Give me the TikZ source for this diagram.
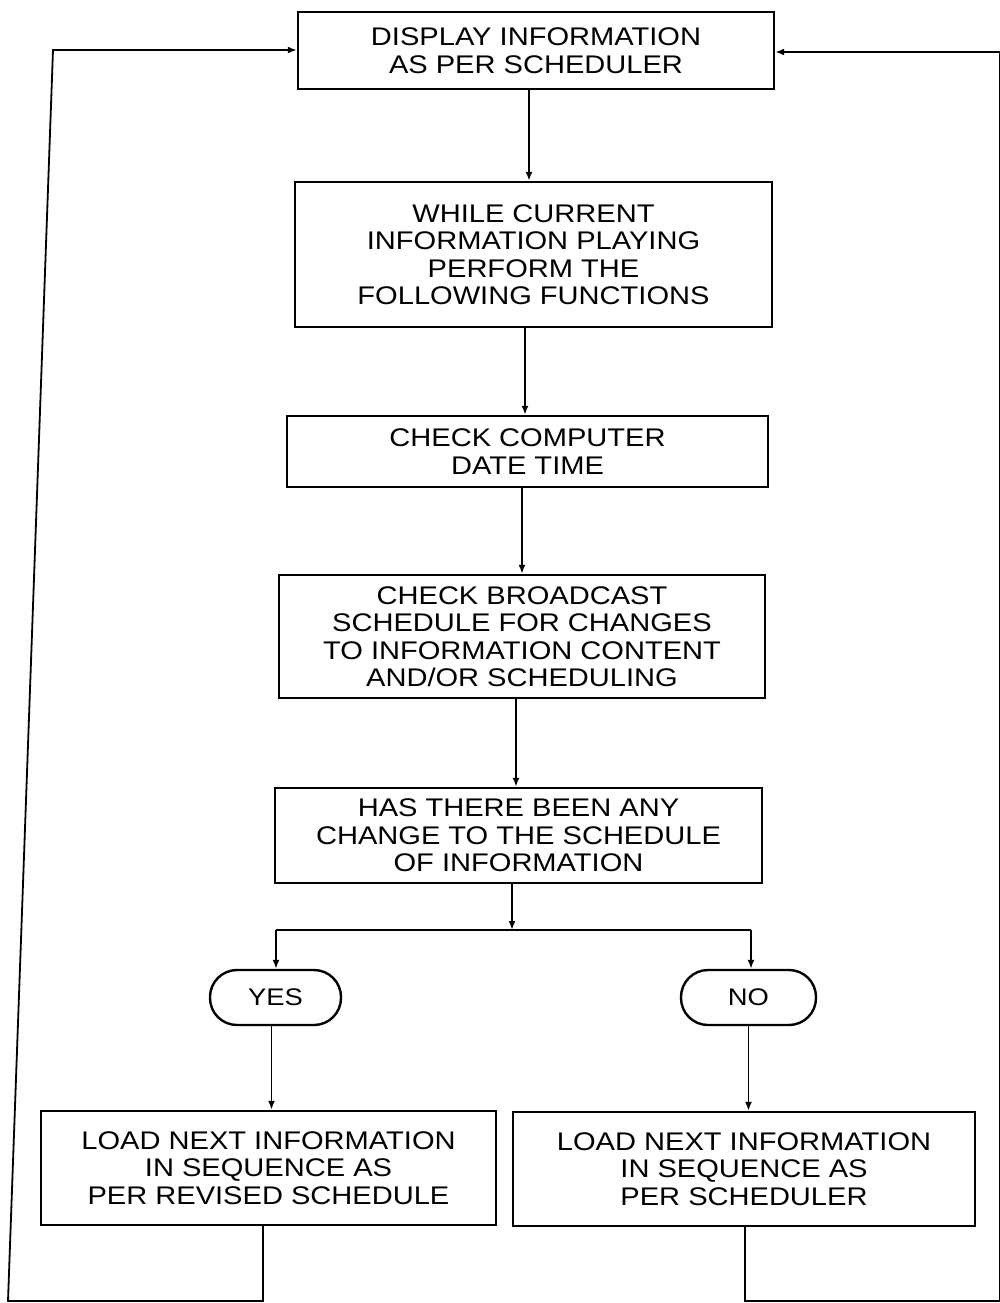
\documentclass[tikz,border=0pt]{standalone}
\usepackage{fontspec}
\setmainfont{Liberation Sans}[FakeStretch=1.14]
\usetikzlibrary{arrows.meta}
\begin{document}
\begin{tikzpicture}[x=1pt,y=-1pt,
  box/.style={draw, line width=2.4pt, inner sep=0pt, align=center,
    font=\fontsize{25.5}{27.5}\selectfont},
  term/.style={draw, line width=2.4pt, rounded corners=27pt, inner sep=0pt,
    minimum height=55pt, font=\fontsize{24}{26}\selectfont},
  conn/.style={line width=1.8pt},
  arr/.style={conn, -{Latex[length=9pt,width=7pt]}}]
\useasboundingbox (0,0) rectangle (1000,1303);

\node[box, minimum width=476pt, minimum height=77pt] (b1) at (536,50.5)
  {DISPLAY INFORMATION\\AS PER SCHEDULER};
\node[box, minimum width=477pt, minimum height=145pt] (b2) at (533.5,254.5)
  {WHILE CURRENT\\INFORMATION PLAYING\\PERFORM THE\\FOLLOWING FUNCTIONS};
\node[box, minimum width=481pt, minimum height=71pt] (b3) at (527.5,451.5)
  {CHECK COMPUTER\\DATE TIME};
\node[box, minimum width=486pt, minimum height=123pt] (b4) at (522,636.5)
  {CHECK BROADCAST\\SCHEDULE FOR CHANGES\\TO INFORMATION CONTENT\\AND/OR SCHEDULING};
\node[box, minimum width=487pt, minimum height=95pt] (b5) at (518.5,835.5)
  {HAS THERE BEEN ANY\\CHANGE TO THE SCHEDULE\\OF INFORMATION};

\node[term, minimum width=131pt] (yes) at (275.5,997.5) {YES};
\node[term, minimum width=135pt] (no) at (748.5,997.5) {NO};

\node[box, minimum width=455pt, minimum height=114pt] (l) at (268.5,1168)
  {LOAD NEXT INFORMATION\\IN SEQUENCE AS\\PER REVISED SCHEDULE};
\node[box, minimum width=462pt, minimum height=114pt] (r) at (744,1169)
  {LOAD NEXT INFORMATION\\IN SEQUENCE AS\\PER SCHEDULER};

% main flow
\draw[arr] ([xshift=-7pt]b1.south) -- ([xshift=-7pt]b1.south |- b2.north);
\draw[arr] ([xshift=-8.5pt]b2.south) -- ([xshift=-8.5pt]b2.south |- b3.north);
\draw[arr] ([xshift=-5.5pt]b3.south) -- ([xshift=-5.5pt]b3.south |- b4.north);
\draw[arr] ([xshift=-6pt]b4.south) -- ([xshift=-6pt]b4.south |- b5.north);

% branch
\coordinate (j) at (512,930);
\coordinate (jl) at (276,930);
\coordinate (jr) at (751,930);
\draw[arr] (b5.south -| j) -- (j);
\draw[conn] (jl) -- (jr);
\draw[arr] (jl) -- (jl |- yes.north);
\draw[arr] (jr) -- (jr |- no.north);
\draw[arr] ([xshift=-4pt]yes.south) -- ([xshift=-4pt]yes.south |- l.north);
\draw[arr] (no.south) -- (no.south |- r.north);

% return loops
\coordinate (cl1) at (263,1301);
\coordinate (cl2) at (8,1301);
\coordinate (cl3) at (53,50);
\draw[arr] (l.south -| cl1) -- (cl1) -- (cl2) -- (cl3) -- (cl3 -| b1.west);
\coordinate (cr1) at (745,1301);
\coordinate (cr2) at (999.5,1301);
\coordinate (cr3) at (999.5,52);
\draw[arr] (r.south -| cr1) -- (cr1) -- (cr2) -- (cr3) -- (cr3 -| b1.east);
\end{tikzpicture}
\end{document}
